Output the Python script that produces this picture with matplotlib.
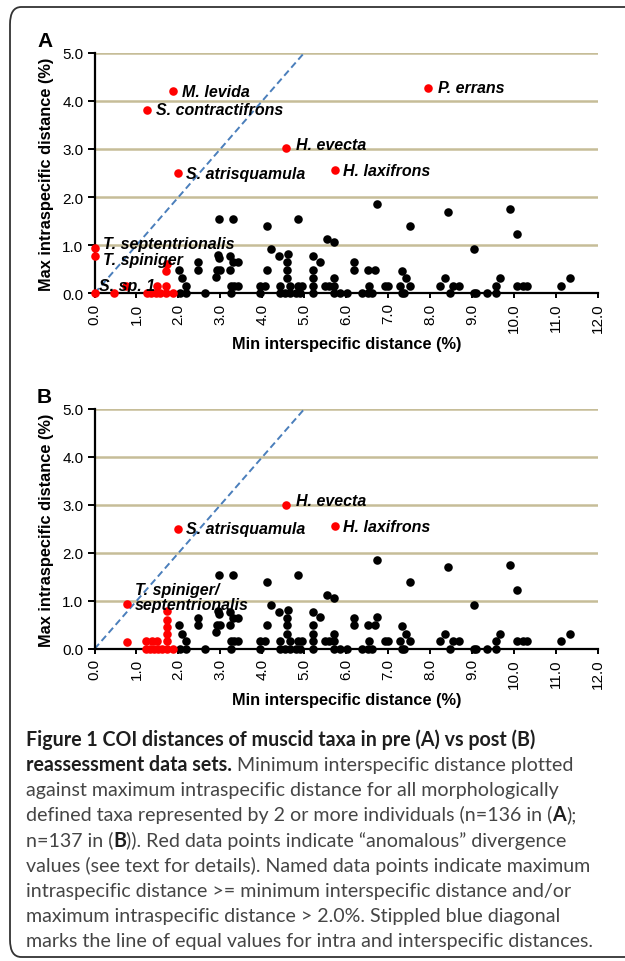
import matplotlib
matplotlib.use("Agg")
import matplotlib.pyplot as plt
from matplotlib.patches import FancyBboxPatch

plt.rcParams['font.family'] = 'Liberation Sans'

# black points (same taxa in both panels)
black_x = [2.02, 2.08, 2.18, 2.04, 2.18, 2.47, 2.47, 2.64, 2.89, 2.92, 2.98, 2.95, 2.97, 2.97,
           3.29, 3.23, 3.29, 3.23, 3.43, 3.25, 3.33, 3.41, 3.25,
           3.94, 4.06, 3.94, 4.10, 4.20, 4.10,
           4.40, 4.60, 4.59, 4.59, 4.59, 4.43, 4.67, 4.43, 4.55, 4.67,
           4.86, 4.86, 4.94, 4.80, 4.90,
           5.20, 5.37, 5.20, 5.20, 5.20, 5.20,
           5.53, 5.71, 5.50, 5.58, 5.71, 5.71, 5.71, 5.85, 6.01,
           6.18, 6.18, 6.37, 6.55, 6.52, 6.62, 6.53, 6.69, 6.73,
           6.92, 7.00, 7.34, 7.42, 7.28, 7.52, 7.33, 7.38, 7.53,
           8.42, 8.35, 8.23, 8.55, 8.69, 8.47,
           9.05, 9.05, 9.10, 9.36, 9.57, 9.57, 9.66,
           9.90, 10.08, 10.06, 10.22, 10.31,
           11.12, 11.33]
black_y = [0.49, 0.31, 0.16, 0.00, 0.00, 0.65, 0.49, 0.00, 0.35, 0.49, 0.49, 0.80, 0.73, 1.55,
           1.55, 0.77, 0.65, 0.49, 0.65, 0.16, 0.16, 0.16, 0.00,
           0.16, 0.16, 0.00, 1.39, 0.92, 0.49,
           0.77, 0.82, 0.65, 0.49, 0.31, 0.16, 0.16, 0.00, 0.00, 0.00,
           1.55, 0.16, 0.16, 0.00, 0.00,
           0.77, 0.66, 0.49, 0.31, 0.16, 0.00,
           1.12, 1.07, 0.16, 0.16, 0.31, 0.16, 0.00, 0.00, 0.00,
           0.65, 0.49, 0.00, 0.16, 0.00, 0.00, 0.49, 0.49, 1.86,
           0.16, 0.16, 0.47, 0.31, 0.16, 0.16, 0.00, 0.00, 1.39,
           1.70, 0.31, 0.16, 0.16, 0.16, 0.00,
           0.92, 0.00, 0.00, 0.00, 0.00, 0.16, 0.31,
           1.75, 1.23, 0.16, 0.16, 0.16,
           0.16, 0.31]
extra_b_x = [6.74]
extra_b_y = [0.66]

# red (anomalous) points
red_a_x = [1.86, 1.24, 7.95, 4.56, 5.73, 1.99, 0.00, 0.00, 0.00,
           0.47, 0.76, 1.25, 1.35, 1.47, 1.55, 1.71, 1.87, 1.50, 1.71, 1.71, 1.72]
red_a_y = [4.20, 3.81, 4.27, 3.01, 2.56, 2.50, 0.94, 0.77, 0.00,
           0.00, 0.16, 0.00, 0.00, 0.00, 0.00, 0.00, 0.00, 0.16, 0.16, 0.47, 0.61]
red_b_x = [4.56, 5.73, 1.99, 0.77, 0.77, 1.23, 1.36, 1.48, 1.72,
           1.23, 1.32, 1.42, 1.52, 1.60, 1.73, 1.88, 1.72, 1.72, 1.72, 1.73]
red_b_y = [3.01, 2.56, 2.50, 0.94, 0.15, 0.16, 0.16, 0.16, 0.16,
           0.00, 0.00, 0.00, 0.00, 0.00, 0.00, 0.00, 0.31, 0.45, 0.60, 0.80]

# labels: (text, index into red list)
labels_a = [("M. levida", 0), ("S. contractifrons", 1), ("P. errans", 2), ("H. evecta", 3),
            ("H. laxifrons", 4), ("S. atrisquamula", 5), ("T. septentrionalis", 6),
            ("T. spiniger", 7), ("S. sp. 1", 8)]
labels_b = [("H. evecta", 0), ("H. laxifrons", 1), ("S. atrisquamula", 2),
            ("T. spiniger/\nseptentrionalis", 3)]
offsets = {"M. levida": (6.5, 0), "S. contractifrons": (6.5, 0), "P. errans": (7, 0),
           "H. evecta": (7, 3), "H. laxifrons": (6, 0), "S. atrisquamula": (6, 0),
           "T. septentrionalis": (6, 3.5), "T. spiniger": (6, -2), "S. sp. 1": (3.5, 5.5),
           "T. spiniger/\nseptentrionalis": (6, 5)}

W, H = 625, 962
fig = plt.figure(figsize=(W / 100, H / 100), dpi=100)

border = FancyBboxPatch((10 / W, 1 - 958 / H), 640 / W, 950 / H,
                        boxstyle="round,pad=0,rounding_size=0.018",
                        transform=fig.transFigure, fill=False, ec='#333333', lw=1.3)
fig.patches.append(border)

axA = fig.add_axes([94.5 / W, 1 - 294.4 / H, 503.5 / W, 240.7 / H])
axB = fig.add_axes([94.5 / W, 1 - 650 / H, 503.5 / W, 240 / H])

panels = [(axA, black_x, black_y, red_a_x, red_a_y, labels_a),
          (axB, black_x + extra_b_x, black_y + extra_b_y, red_b_x, red_b_y, labels_b)]

for ax, bx, by, rx, ry, labs in panels:
    ax.set_xlim(0, 12)
    ax.set_ylim(0, 5)
    for v in range(1, 6):
        ax.axhline(v, color='#c6bd98', lw=1.8, zorder=0)
    ax.plot([0, 5.3], [0, 5.3], ls=(0, (3.5, 2)), color='#4a7ebb', lw=1.4, zorder=1)
    ax.scatter(bx, by, s=38, color='black', zorder=3, clip_on=False, linewidths=0)
    ax.scatter(rx, ry, s=38, color='#ff0000', zorder=4, clip_on=False, linewidths=0)
    for name, i in labs:
        ax.annotate(name, (rx[i], ry[i]), xytext=offsets[name], textcoords='offset points',
                    ha='left', va='center', fontsize=11.5, fontweight='bold',
                    fontstyle='italic', zorder=5, linespacing=1.05)
    for s in ['top', 'right']:
        ax.spines[s].set_visible(False)
    for s in ['left', 'bottom']:
        ax.spines[s].set_linewidth(1.6)
    ax.set_xticks(range(13))
    ax.set_xticklabels([f"{v:.1f}" for v in range(13)], rotation=90)
    ax.set_yticks(range(6))
    ax.set_yticklabels([f"{v:.1f}" for v in range(6)])
    ax.tick_params(axis='x', length=3.5, width=1.4, labelsize=11, pad=3)
    ax.tick_params(axis='y', length=5, width=1.4, labelsize=11, pad=3)
    ax.set_xlabel("Min interspecific distance (%)", fontsize=11.8, fontweight='bold', labelpad=3)
    ax.set_ylabel("Max intraspecific distance (%)", fontsize=11.8, fontweight='bold', labelpad=6)
    ax.patch.set_visible(False)

fig.text(37 / W, 1 - 47 / H, "A", fontsize=15, fontweight='bold', va='baseline')
fig.text(37 / W, 1 - 403 / H, "B", fontsize=15, fontweight='bold', va='baseline')

# caption
cap_lines = [
    [("Figure 1 COI distances of muscid taxa in pre (A) vs post (B)", True)],
    [("reassessment data sets.", True), (" Minimum interspecific distance plotted", False)],
    [("against maximum intraspecific distance for all morphologically", False)],
    [("defined taxa represented by 2 or more individuals (n=136 in (", False), ("A", True), (");", False)],
    [("n=137 in (", False), ("B", True), (")). Red data points indicate \u201canomalous\u201d divergence", False)],
    [("values (see text for details). Named data points indicate maximum", False)],
    [("intraspecific distance >= minimum interspecific distance and/or", False)],
    [("maximum intraspecific distance > 2.0%. Stippled blue diagonal", False)],
    [("marks the line of equal values for intra and interspecific distances.", False)],
]
cap_font = 'Lato'
renderer = fig.canvas.get_renderer()

# fit font size to the width of a reference line
probe = fig.text(0, 0, cap_lines[2][0][0], fontsize=12, family=cap_font)
pw = probe.get_window_extent(renderer).width
probe.remove()
cap_size = 12 * 532 / pw

sp1 = fig.text(0, 0, "x x", fontsize=cap_size, family=cap_font)
sp2 = fig.text(0, 0, "xx", fontsize=cap_size, family=cap_font)
space_w = sp1.get_window_extent(renderer).width - sp2.get_window_extent(renderer).width
sp1.remove()
sp2.remove()

for li, parts in enumerate(cap_lines):
    x = 26.0
    y = 1 - (746 + li * 25.15) / H
    for txt, bold in parts:
        lead = len(txt) - len(txt.lstrip(' '))
        x += lead * space_w
        t = fig.text(x / W, y, txt.strip(' '), fontsize=cap_size, family=cap_font,
                     fontweight='bold' if bold else 'normal',
                     color='#1e1e1e' if bold else '#454545', va='baseline')
        x += t.get_window_extent(renderer).width

fig.savefig("out.png", dpi=100)
